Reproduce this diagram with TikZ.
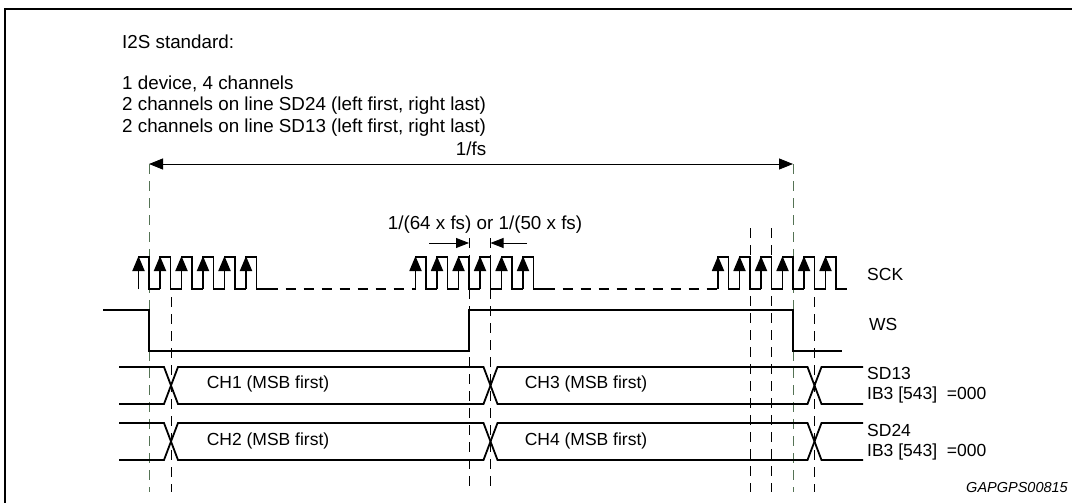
\documentclass[tikz,border=0pt]{standalone}
\usepackage{fontspec}
\setmainfont{Liberation Sans}
\usetikzlibrary{arrows.meta, positioning, calc}

\begin{document}
\begin{tikzpicture}[x=1pt, y=-1pt, font=\fontsize{17.5}{20}\selectfont]
  % Define colors
  \definecolor{guidegreen}{RGB}{85,115,85}
  \tikzset{
    wave/.style={line width=1.8pt, line join=miter},
    guide/.style={dash pattern=on 10pt off 7pt, line width=0.9pt},
    rise/.style={-{Triangle[length=15pt, width=12pt]}, line width=1.8pt},
    dim/.style={line width=0.8pt},
    lbl/.style={anchor=west, inner sep=0pt, align=left},
    big/.style={font=\fontsize{18.8}{22}\selectfont}
  }
  \useasboundingbox (0,0) rectangle (1072,503);

  % Frame (cut off at the right and bottom)
  \draw[line width=1.6pt] (5,520) -- (5,9) -- (1090,9);

  % Header text
  \node[lbl, big] (head) at (122,42) {I2S standard:};
  \node[lbl, big] (dev) at (122,84) {1 device, 4 channels};
  \node[lbl, big] (lineB) at (122,106) {2 channels on line SD24 (left first, right last)};
  \node[lbl, big] (lineA) at (122,128) {2 channels on line SD13 (left first, right last)};

  % Frame period 1/fs
  \coordinate (fsL) at (149,164);
  \coordinate (fsR) at (793,164);
  \draw[dim, {Triangle[length=14pt, width=11pt]}-{Triangle[length=14pt, width=11pt]}] (fsL) -- (fsR);
  \node[big] (fs) at (471,149) {1/fs};

  % Bit period
  \node[big] (bit) at (485,225) {1/(64 x fs) or 1/(50 x fs)};
  \coordinate (bitL) at (469,243);
  \coordinate (bitR) at (490.5,243);
  \coordinate (bitLs) at (429,243);
  \coordinate (bitRs) at (527,243);
  \draw[dim, -{Triangle[length=13pt, width=10pt]}] (bitLs) -- (bitL);
  \draw[dim, -{Triangle[length=13pt, width=10pt]}] (bitRs) -- (bitR);

  % Guide lines
  \draw[guide, guidegreen] (149,164) -- (149,492);
  \draw[guide, guidegreen] (793,164) -- (793,492);
  \draw[guide] (171,297) -- (171,492);
  \draw[guide] (469,238) -- (469,492);
  \draw[guide] (490.5,238) -- (490.5,492);
  \draw[guide] (750,228) -- (750,492);
  \draw[guide] (771.5,228) -- (771.5,492);
  \draw[guide] (814.5,297) -- (814.5,492);

  % SCK clock, three bursts of six pulses
  \draw[wave, dash pattern=on 10pt off 8pt] (267.5,289) -- (415.5,289);
  \draw[wave, dash pattern=on 10pt off 8pt] (544.5,289) -- (718,289);
  \foreach \s in {149, 426, 728.5} {
    \foreach \k in {0,...,5} {
      \pgfmathsetmacro\f{\s+21.5*\k}
      \draw[wave] ({\f-10.5},289) -- ({\f-10.5},257) -- (\f,257) -- (\f,289) -- ({\f+11},289);
      \draw[rise] ({\f-10.5},289) -- ({\f-10.5},256);
    }
  }
  \node[lbl] (sck) at (867,274) {SCK};

  % WS
  \draw[wave] (103,310) -- (149,310) -- (149,351) -- (469,351) -- (469,310)
    -- (793,310) -- (793,351) -- (842,351);
  \node[lbl] (ws) at (869,324) {WS};

  % SD13 and SD24 data lines
  \foreach \t/\b in {367/404, 423/460} {
    \draw[wave] (119,\t) -- (164,\t) -- (178,\b) -- (483.5,\b) -- (497.5,\t)
      -- (807.5,\t) -- (821.5,\b) -- (863,\b);
    \draw[wave] (119,\b) -- (164,\b) -- (178,\t) -- (483.5,\t) -- (497.5,\b)
      -- (807.5,\b) -- (821.5,\t) -- (863,\t);
  }
  \node (ch1) at (268,384) {CH1 (MSB first)};
  \node (ch3) at (586,384) {CH3 (MSB first)};
  \node (ch2) at (268,441) {CH2 (MSB first)};
  \node (ch4) at (586,441) {CH4 (MSB first)};
  \node[lbl] (sdA) at (867,385) {SD13\\IB3 [543]~ =000};
  \node[lbl] (sdB) at (867,442) {SD24\\IB3 [543]~ =000};

  % Figure code
  \node[anchor=east, inner sep=0pt, font=\fontsize{14.5}{17}\selectfont\itshape] (code) at (1068,488) {GAPGPS00815};
\end{tikzpicture}
\end{document}
